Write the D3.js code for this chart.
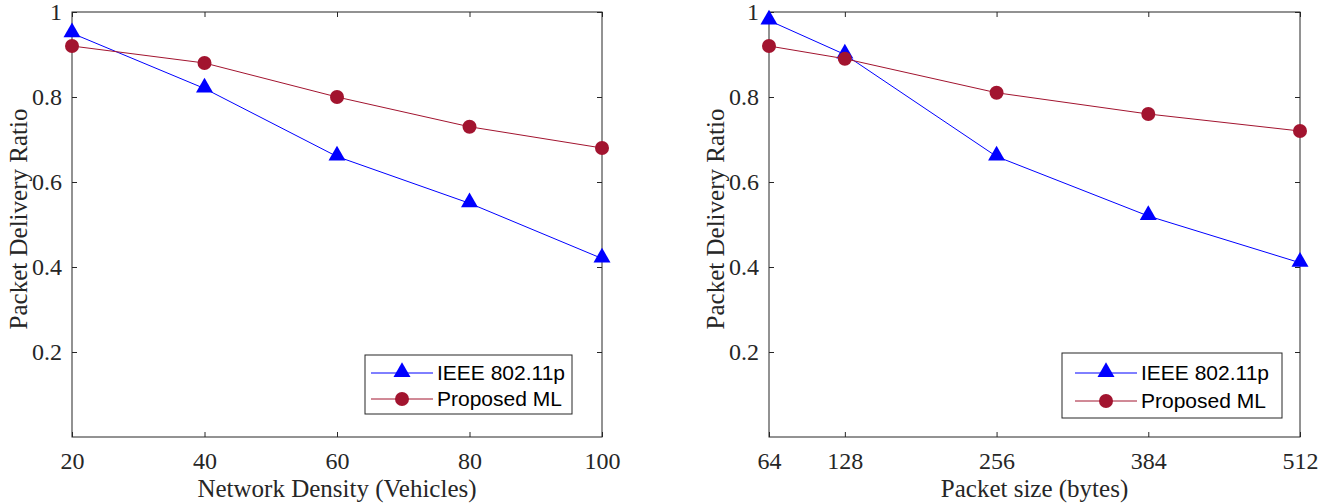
<!DOCTYPE html>
<html><head><meta charset="utf-8">
<script src="https://cdn.jsdelivr.net/npm/d3@7"></script>
<style>body{margin:0;background:#fff}</style>
</head><body>
<svg id="c" width="1325" height="503"></svg>
<script>
const densityX = [20, 40, 60, 80, 100];
const densityIEEE = [0.95, 0.82, 0.66, 0.55, 0.42];
const densityML = [0.92, 0.88, 0.80, 0.73, 0.68];
const sizeX = [64, 128, 256, 384, 512];
const sizeIEEE = [0.98, 0.90, 0.66, 0.52, 0.41];
const sizeML = [0.92, 0.89, 0.81, 0.76, 0.72];
const yTicks = [0.2, 0.4, 0.6, 0.8, 1];
const seriesNames = ["IEEE 802.11p", "Proposed ML"];
const xLabels = ["Network Density (Vehicles)", "Packet size (bytes)"];
const yLabel = "Packet Delivery Ratio";

const svg = d3.select("#c");
const blue = "#0000ff", red = "#A2142F", axisCol = "#262626";
const serif = "'Liberation Serif','Times New Roman',serif";
const sans = "'Liberation Sans',Arial,sans-serif";

function panel(left, right, xs, xDomain, ieee, ml, xlab, legBox, leg) {
  const top = 12, bottom = 437;
  const x = d3.scaleLinear().domain(xDomain).range([left, right]);
  const y = d3.scaleLinear().domain([0, 1]).range([bottom, top]);
  const g = svg.append("g");
  g.append("rect").attr("x", left).attr("y", top).attr("width", right - left).attr("height", bottom - top)
    .attr("fill", "none").attr("stroke", axisCol).attr("stroke-width", 1);
  const tl = 5;
  const xb = g.append("g").attr("transform", `translate(0,${bottom})`)
    .call(d3.axisBottom(x).tickValues(xs).tickSize(-tl).tickFormat(d3.format("d")).tickPadding(15));
  const xt = g.append("g").attr("transform", `translate(0,${top})`)
    .call(d3.axisTop(x).tickValues(xs).tickSize(-tl).tickFormat(""));
  const yl = g.append("g").attr("transform", `translate(${left},0)`)
    .call(d3.axisLeft(y).tickValues(yTicks).tickSize(-tl).tickFormat(d => d === 1 ? "1" : d3.format(".1f")(d)).tickPadding(10));
  const yr = g.append("g").attr("transform", `translate(${right},0)`)
    .call(d3.axisRight(y).tickValues(yTicks).tickSize(-tl).tickFormat(""));
  [xb, xt, yl, yr].forEach(a => {
    a.select(".domain").remove();
    a.selectAll("line").attr("stroke", axisCol);
    a.selectAll("text").attr("font-family", serif).attr("font-size", 24).attr("fill", axisCol);
  });
  g.append("text").attr("x", (left + right) / 2).attr("y", 497).attr("text-anchor", "middle")
    .attr("font-family", serif).attr("font-size", 25).attr("fill", axisCol).text(xlab);
  g.append("text").attr("transform", `translate(${left - 45},219) rotate(-90)`)
    .attr("text-anchor", "middle").attr("font-family", serif).attr("font-size", 25).attr("fill", axisCol).text(yLabel);
  const line = d3.line();
  const tri = d3.symbol().type(d3.symbolTriangle).size(125);
  const dat = [[ieee, blue, "tri"], [ml, red, "circ"]];
  dat.forEach(([vals, col, m]) => {
    const pts = xs.map((v, i) => [x(v), y(vals[i])]);
    g.append("path").attr("d", line(pts)).attr("fill", "none").attr("stroke", col).attr("stroke-width", 1);
    pts.forEach(p => {
      if (m === "tri") g.append("path").attr("d", tri()).attr("transform", `translate(${p[0]},${p[1] - 1})`).attr("fill", col);
      else g.append("circle").attr("cx", p[0]).attr("cy", p[1]).attr("r", 7).attr("fill", col);
    });
  });
  const [lx, ly, lw, lh] = legBox;
  const [l1, l2, rowY, rowGap] = leg;
  g.append("rect").attr("x", lx).attr("y", ly).attr("width", lw).attr("height", lh)
    .attr("fill", "#fff").attr("stroke", axisCol).attr("stroke-width", 1);
  dat.forEach(([vals, col, m], i) => {
    const cy = rowY + i * rowGap;
    const mx = (l1 + l2) / 2;
    g.append("line").attr("x1", l1).attr("x2", l2).attr("y1", cy).attr("y2", cy).attr("stroke", col).attr("stroke-width", 1);
    if (m === "tri") g.append("path").attr("d", tri()).attr("transform", `translate(${mx},${cy - 1})`).attr("fill", col);
    else g.append("circle").attr("cx", mx).attr("cy", cy).attr("r", 7).attr("fill", col);
    g.append("text").attr("x", l2 + 4).attr("y", cy + 7).attr("font-family", sans).attr("font-size", 21)
      .attr("fill", "#000").text(seriesNames[i]);
  });
}
panel(72, 602, densityX, [20, 100], densityIEEE, densityML, xLabels[0], [365, 355, 207, 59], [371, 433, 373, 26]);
panel(769, 1300, sizeX, [64, 512], sizeIEEE, sizeML, xLabels[1], [1062, 353, 220, 65], [1075, 1137, 373, 28]);
</script>
</body></html>
